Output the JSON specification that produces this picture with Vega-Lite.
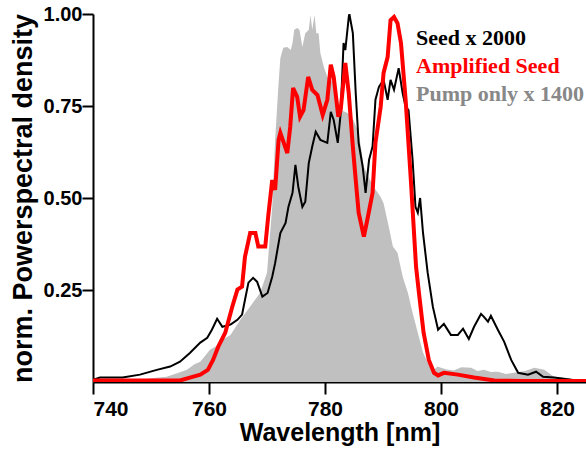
{
  "$schema": "https://vega.github.io/schema/vega-lite/v6.json",
  "autosize": {"type": "none"},
  "padding": {"left": 93, "top": 14, "right": 0, "bottom": 67},
  "width": 493,
  "height": 368,
  "background": "white",
  "config": {
    "view": {"stroke": null},
    "axis": {"grid": false, "labelFont": "Liberation Sans", "titleFont": "Liberation Sans", "labelFontWeight": "bold", "titleFontWeight": "bold", "labelColor": "#000000", "titleColor": "#000000"}
  },
  "datasets": {
    "pump": [
      {"wl":740.0,"v":0.004},{"wl":744.0,"v":0.006},{"wl":748.1,"v":0.006},{"wl":750.5,"v":0.011},{"wl":752.7,"v":0.014},{"wl":754.5,"v":0.024},{"wl":756.2,"v":0.033},{"wl":757.5,"v":0.048},{"wl":758.5,"v":0.055},{"wl":760.2,"v":0.088},{"wl":761.3,"v":0.098},{"wl":762.3,"v":0.115},{"wl":763.7,"v":0.128},{"wl":765.4,"v":0.169},{"wl":767.1,"v":0.205},{"wl":768.8,"v":0.242},{"wl":770.0,"v":0.297},{"wl":770.9,"v":0.476},{"wl":771.4,"v":0.658},{"wl":772.0,"v":0.813},{"wl":772.3,"v":0.880},{"wl":772.8,"v":0.908},{"wl":773.5,"v":0.910},{"wl":774.1,"v":0.902},{"wl":774.4,"v":0.921},{"wl":774.7,"v":0.957},{"wl":775.2,"v":0.962},{"wl":775.6,"v":0.957},{"wl":776.1,"v":0.910},{"wl":776.6,"v":0.948},{"wl":777.2,"v":0.957},{"wl":777.5,"v":0.997},{"wl":777.8,"v":0.957},{"wl":778.2,"v":0.997},{"wl":778.5,"v":0.948},{"wl":778.9,"v":0.948},{"wl":779.2,"v":0.894},{"wl":779.8,"v":0.856},{"wl":780.4,"v":0.829},{"wl":781.5,"v":0.813},{"wl":782.2,"v":0.767},{"wl":782.7,"v":0.739},{"wl":783.9,"v":0.731},{"wl":784.9,"v":0.712},{"wl":785.8,"v":0.677},{"wl":786.7,"v":0.585},{"wl":787.5,"v":0.558},{"wl":788.4,"v":0.530},{"wl":789.6,"v":0.503},{"wl":790.1,"v":0.486},{"wl":791.0,"v":0.422},{"wl":791.7,"v":0.368},{"wl":792.5,"v":0.351},{"wl":793.4,"v":0.286},{"wl":794.3,"v":0.242},{"wl":795.1,"v":0.188},{"wl":796.0,"v":0.134},{"wl":796.9,"v":0.080},{"wl":797.7,"v":0.053},{"wl":798.8,"v":0.033},{"wl":799.4,"v":0.042},{"wl":800.0,"v":0.039},{"wl":801.0,"v":0.034},{"wl":802.2,"v":0.031},{"wl":803.5,"v":0.040},{"wl":805.2,"v":0.039},{"wl":806.3,"v":0.030},{"wl":807.4,"v":0.033},{"wl":808.6,"v":0.027},{"wl":809.8,"v":0.028},{"wl":811.2,"v":0.022},{"wl":812.6,"v":0.025},{"wl":814.5,"v":0.030},{"wl":816.1,"v":0.039},{"wl":817.8,"v":0.033},{"wl":819.5,"v":0.014},{"wl":822.5,"v":0.009},{"wl":825.0,"v":0.006}
    ],
    "seed": [
      {"wl":740.0,"v":0.006},{"wl":741.2,"v":0.012},{"wl":745.1,"v":0.012},{"wl":748.1,"v":0.020},{"wl":751.0,"v":0.033},{"wl":753.3,"v":0.042},{"wl":755.0,"v":0.055},{"wl":756.7,"v":0.079},{"wl":758.5,"v":0.107},{"wl":759.7,"v":0.120},{"wl":760.5,"v":0.142},{"wl":761.4,"v":0.172},{"wl":762.3,"v":0.150},{"wl":763.7,"v":0.156},{"wl":764.9,"v":0.169},{"wl":765.7,"v":0.183},{"wl":766.2,"v":0.223},{"wl":766.8,"v":0.270},{"wl":767.6,"v":0.283},{"wl":768.3,"v":0.272},{"wl":769.2,"v":0.232},{"wl":770.1,"v":0.242},{"wl":770.9,"v":0.286},{"wl":771.4,"v":0.323},{"wl":772.3,"v":0.405},{"wl":773.2,"v":0.432},{"wl":773.7,"v":0.476},{"wl":774.4,"v":0.514},{"wl":774.9,"v":0.590},{"wl":775.4,"v":0.530},{"wl":776.1,"v":0.476},{"wl":776.6,"v":0.490},{"wl":777.2,"v":0.595},{"wl":777.8,"v":0.640},{"wl":778.4,"v":0.680},{"wl":779.2,"v":0.658},{"wl":780.4,"v":0.650},{"wl":781.0,"v":0.734},{"wl":781.5,"v":0.712},{"wl":782.2,"v":0.650},{"wl":782.7,"v":0.730},{"wl":783.2,"v":0.921},{"wl":783.5,"v":0.902},{"wl":784.1,"v":0.992},{"wl":784.2,"v":1.000},{"wl":784.8,"v":0.948},{"wl":785.3,"v":0.784},{"wl":785.8,"v":0.650},{"wl":786.5,"v":0.585},{"wl":787.0,"v":0.514},{"wl":787.6,"v":0.604},{"wl":788.2,"v":0.640},{"wl":788.7,"v":0.767},{"wl":789.3,"v":0.802},{"wl":790.1,"v":0.821},{"wl":790.8,"v":0.767},{"wl":791.3,"v":0.821},{"wl":791.9,"v":0.794},{"wl":792.7,"v":0.853},{"wl":793.4,"v":0.784},{"wl":793.9,"v":0.748},{"wl":794.4,"v":0.739},{"wl":795.1,"v":0.604},{"wl":795.6,"v":0.476},{"wl":796.0,"v":0.460},{"wl":796.4,"v":0.500},{"wl":796.9,"v":0.405},{"wl":797.7,"v":0.297},{"wl":798.6,"v":0.204},{"wl":799.5,"v":0.142},{"wl":800.5,"v":0.158},{"wl":801.7,"v":0.128},{"wl":802.9,"v":0.128},{"wl":803.8,"v":0.145},{"wl":804.8,"v":0.117},{"wl":805.7,"v":0.150},{"wl":806.9,"v":0.185},{"wl":807.4,"v":0.177},{"wl":808.1,"v":0.164},{"wl":808.6,"v":0.180},{"wl":809.8,"v":0.142},{"wl":810.9,"v":0.109},{"wl":812.1,"v":0.060},{"wl":813.3,"v":0.025},{"wl":815.0,"v":0.020},{"wl":816.4,"v":0.028},{"wl":817.6,"v":0.014},{"wl":819.5,"v":0.012},{"wl":822.5,"v":0.006},{"wl":825.0,"v":0.004}
    ],
    "amp": [
      {"wl":740.0,"v":0.004},{"wl":751.0,"v":0.004},{"wl":755.0,"v":0.004},{"wl":756.7,"v":0.012},{"wl":758.5,"v":0.020},{"wl":759.8,"v":0.033},{"wl":760.7,"v":0.060},{"wl":761.6,"v":0.096},{"wl":762.8,"v":0.134},{"wl":764.0,"v":0.204},{"wl":764.9,"v":0.251},{"wl":765.7,"v":0.259},{"wl":766.2,"v":0.340},{"wl":767.1,"v":0.405},{"wl":768.0,"v":0.405},{"wl":768.5,"v":0.368},{"wl":769.7,"v":0.368},{"wl":770.2,"v":0.449},{"wl":770.9,"v":0.549},{"wl":771.4,"v":0.522},{"wl":772.0,"v":0.658},{"wl":772.3,"v":0.677},{"wl":773.5,"v":0.622},{"wl":774.0,"v":0.693},{"wl":774.5,"v":0.799},{"wl":775.2,"v":0.775},{"wl":775.7,"v":0.721},{"wl":776.3,"v":0.739},{"wl":777.1,"v":0.829},{"wl":777.8,"v":0.794},{"wl":778.7,"v":0.780},{"wl":779.6,"v":0.726},{"wl":780.4,"v":0.767},{"wl":781.0,"v":0.862},{"wl":781.5,"v":0.829},{"wl":782.3,"v":0.721},{"wl":782.7,"v":0.739},{"wl":783.5,"v":0.867},{"wl":784.1,"v":0.784},{"wl":784.8,"v":0.640},{"wl":785.3,"v":0.549},{"wl":785.8,"v":0.460},{"wl":786.7,"v":0.395},{"wl":787.4,"v":0.449},{"wl":788.2,"v":0.514},{"wl":788.7,"v":0.650},{"wl":789.6,"v":0.748},{"wl":790.1,"v":0.840},{"wl":790.8,"v":0.883},{"wl":791.3,"v":0.983},{"wl":791.9,"v":0.992},{"wl":792.5,"v":0.975},{"wl":793.1,"v":0.921},{"wl":793.9,"v":0.767},{"wl":794.8,"v":0.549},{"wl":795.7,"v":0.313},{"wl":796.2,"v":0.242},{"wl":797.0,"v":0.134},{"wl":797.9,"v":0.060},{"wl":798.8,"v":0.025},{"wl":799.5,"v":0.018},{"wl":800.5,"v":0.025},{"wl":802.9,"v":0.020},{"wl":805.7,"v":0.012},{"wl":809.2,"v":0.004},{"wl":813.8,"v":0.003},{"wl":825.0,"v":0.003}
    ]
  },
  "layer": [
    {
      "data": {"name": "pump"},
      "mark": {"type": "area", "clip": true, "interpolate": "linear"},
      "encoding": {
        "x": {"field": "wl", "type": "quantitative", "scale": {"domain": [740, 825], "nice": false, "zero": false},
          "axis": {"orient": "bottom", "values": [740, 760, 780, 800, 820], "domainColor": "#000000", "domainWidth": 2, "tickColor": "#000000", "tickWidth": 2, "tickSize": 12, "labelPadding": 4, "labelFontSize": 21, "title": "Wavelength [nm]", "titleFontSize": 25, "titlePadding": 1}},
        "y": {"field": "v", "type": "quantitative", "scale": {"domain": [0, 1], "nice": false},
          "axis": {"orient": "left", "values": [0.25, 0.5, 0.75, 1.0], "format": ".2f", "domainColor": "#000000", "domainWidth": 2, "tickColor": "#000000", "tickWidth": 2, "tickSize": 11, "labelPadding": 0, "labelFontSize": 20, "title": "norm. Powerspectral density", "titleFontSize": 27, "titlePadding": 6}},
        "color": {"datum": "Pump only x 1400", "type": "nominal",
          "scale": {"domain": ["Seed x 2000", "Amplified Seed", "Pump only x 1400"], "range": ["black", "#ff0000", "#c0c0c0"]},
          "legend": {"title": null, "orient": "none", "legendX": 301, "legendY": 13, "symbolSize": 0, "labelOffset": 0, "padding": 0, "rowPadding": 6,
            "labelFont": "Liberation Serif", "labelFontWeight": "bold", "labelFontSize": 22, "labelLimit": 400,
            "labelColor": {"expr": "datum.value === 'Pump only x 1400' ? '#888888' : (datum.value === 'Amplified Seed' ? '#ff0000' : 'black')"}}}
      }
    },
    {
      "data": {"name": "seed"},
      "mark": {"type": "line", "clip": true, "strokeWidth": 2},
      "encoding": {
        "x": {"field": "wl", "type": "quantitative"},
        "y": {"field": "v", "type": "quantitative"},
        "color": {"datum": "Seed x 2000", "type": "nominal"}
      }
    },
    {
      "data": {"name": "amp"},
      "mark": {"type": "line", "clip": true, "strokeWidth": 4},
      "encoding": {
        "x": {"field": "wl", "type": "quantitative"},
        "y": {"field": "v", "type": "quantitative"},
        "color": {"datum": "Amplified Seed", "type": "nominal"}
      }
    }
  ]
}
